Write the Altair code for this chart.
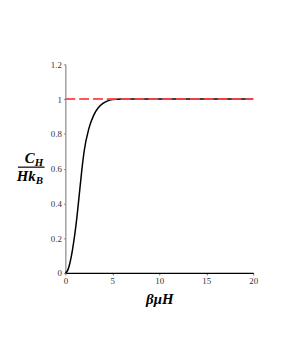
import altair as alt
import pandas as pd

# curve values
x_vals = [0, 0.25, 0.5, 0.75, 1.0, 1.25, 1.5, 1.75, 2.0, 2.5, 3.0, 3.5, 4.0, 4.5, 5.0, 6.0, 8.0, 10.0, 15.0, 20.0]
y_vals = [0, 0.015, 0.06, 0.13, 0.22, 0.33, 0.46, 0.59, 0.70, 0.83, 0.905, 0.95, 0.975, 0.99, 0.997, 1.0, 1.0, 1.0, 1.0, 1.0]
ref_x = [0, 20]
ref_y = [1, 1]
x_ticks = [0, 5, 10, 15, 20]
y_ticks = [0, 0.2, 0.4, 0.6, 0.8, 1, 1.2]

curve = pd.DataFrame({"x": x_vals, "y": y_vals})
ref = pd.DataFrame({"x": ref_x, "y": ref_y})

serif = "Liberation Serif"

xscale = alt.Scale(domain=[0, 20], nice=False)
yscale = alt.Scale(domain=[0, 1.2], nice=False)

xaxis = alt.Axis(values=x_ticks, title="βμH", titleFont=serif, titleFontSize=15,
                 titleFontStyle="italic", titleFontWeight="bold", titleColor="black",
                 titlePadding=6, labelFont=serif, labelFontSize=9, labelColor="#333",
                 domainColor="black", domainWidth=1.2, tickSize=2, tickColor="#666",
                 labelPadding=2, grid=False, labelFlush=False, labelOverlap=False)
yaxis = alt.Axis(values=y_ticks, title=None, labelFont=serif, labelFontSize=9,
                 labelColor="#333", domainColor="#888", domainWidth=1.2, tickSize=2,
                 tickColor="#888", labelPadding=2, grid=False, labelOverlap=False,
                 labelFlush=False,
                 labelExpr="datum.value == 0 ? '0' : (datum.value == 1 ? '1' : format(datum.value, '.1f'))")

line = alt.Chart(curve).mark_line(color="black", strokeWidth=1.5, interpolate="monotone").encode(
    x=alt.X("x:Q", scale=xscale, axis=xaxis),
    y=alt.Y("y:Q", scale=yscale, axis=yaxis),
)
dash = alt.Chart(ref).mark_line(color="#ff4545", strokeWidth=2, strokeDash=[10, 4], opacity=0.9).encode(
    x=alt.X("x:Q", scale=xscale, axis=xaxis),
    y=alt.Y("y:Q", scale=yscale, axis=yaxis),
)

lab = pd.DataFrame({"d": [0]})
def txt(s, x, y, size, align="center"):
    return alt.Chart(lab).mark_text(text=s, font=serif, fontSize=size, fontStyle="italic",
                                    fontWeight="bold", align=align, baseline="alphabetic",
                                    color="black").encode(x=alt.value(x), y=alt.value(y))

c = txt("C", -31, 100, 15, "right")
h = txt("H", -31, 103, 11, "left")
bar = alt.Chart(lab).mark_rule(color="black", strokeWidth=1.2).encode(
    x=alt.value(-48), x2=alt.value(-21), y=alt.value(104))
hk = txt("Hk", -30, 118, 15, "right")
b = txt("B", -30, 121, 11, "left")

chart = alt.layer(line, dash, c, h, bar, hk, b).properties(
    width=190, height=211,
    autosize=alt.AutoSizeParams(type="none"),
    padding={"left": 58, "top": 55, "right": 20, "bottom": 80},
).configure(background="white").configure_view(strokeWidth=0, stroke=None).configure_axis(labelOverlap=False)

chart.save("out.html", embed_options={"renderer": "svg", "actions": False})
